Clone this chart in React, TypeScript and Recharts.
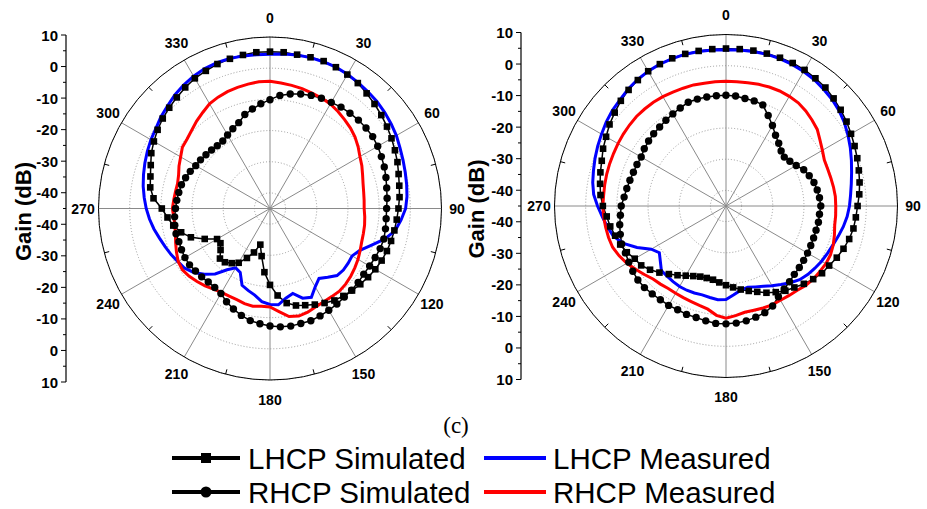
import React from "react";
import {
  RadarChart,
  Radar,
  PolarGrid,
  PolarAngleAxis,
  PolarRadiusAxis,
  LineChart,
  YAxis,
} from "recharts";

// angle categories, every 5 degrees, 0 at top, clockwise
const ANGLES = [
  0, 5, 10, 15, 20, 25, 30, 35, 40, 45, 50, 55,
  60, 65, 70, 75, 80, 85, 90, 95, 100, 105, 110, 115,
  120, 125, 130, 135, 140, 145, 150, 155, 160, 165, 170, 175,
  180, 185, 190, 195, 200, 205, 210, 215, 220, 225, 230, 235,
  240, 245, 250, 255, 260, 265, 270, 275, 280, 285, 290, 295,
  300, 305, 310, 315, 320, 325, 330, 335, 340, 345, 350, 355,
];
const SPOKE_ANGLES = [0, 30, 60, 90, 120, 150, 180, 210, 240, 270, 300, 330];
const RING_TICKS = [-40, -30, -20, -10, 0, 10];
const GAIN_TICKS = [10, 5, 0, -5, -10, -15, -20, -25, -30, -35, -40, -45];
const GAIN_MIN = -45;
const GAIN_MAX = 10;

// left panel (dB)
const L_LHCP_SIM = [
  5.3, 5.3, 5.1, 5.2, 5.3, 5.0, 4.6, 4.1, 3.2, 2.4, 1.6, 0.8,
  0.0, -0.8, -1.5, -2.3, -2.9, -3.3, -3.8, -4.2, -4.5, -4.8, -5.1, -5.5,
  -6.0, -6.6, -7.2, -7.8, -8.4, -9.0, -10.0, -11.0, -12.0, -12.8, -14.2, -17.0,
  -20.5, -24.5, -29.5, -33.0, -30.0, -27.5, -24.9, -23.6, -22.5, -22.3, -24.3, -25.6,
  -25.4, -21.9, -18.0, -15.5, -13.5, -12.0, -10.3, -7.5, -6.0, -5.3, -4.3, -3.0,
  -2.0, -1.0, -0.1, 0.7, 1.5, 2.4, 3.2, 3.7, 4.3, 4.7, 5.0, 5.3,
];
const L_LHCP_MEAS = [
  4.5, 4.7, 5.0, 5.1, 5.1, 5.0, 4.7, 4.3, 3.9, 3.5, 3.0, 2.4,
  1.8, 1.0, 0.4, -0.1, -0.5, -0.9, -1.5, -2.8, -4.2, -7.0, -10.5, -13.2,
  -14.6, -14.4, -14.3, -14.6, -16.2, -17.6, -16.0, -13.6, -14.4, -16.8, -15.8, -14.0,
  -14.2, -15.0, -16.8, -17.8, -18.8, -22.4, -23.0, -21.0, -17.6, -15.2, -13.1, -11.6,
  -10.9, -10.0, -9.2, -8.3, -7.2, -6.2, -5.3, -4.5, -3.7, -3.0, -2.3, -1.6,
  -0.9, -0.3, 0.7, 1.5, 2.5, 3.3, 4.0, 4.5, 4.8, 4.8, 4.7, 4.5,
];
const L_RHCP_SIM = [
  -10.1, -8.6, -7.7, -7.0, -6.4, -6.0, -5.7, -5.3, -5.1, -4.9, -4.8, -4.8,
  -5.1, -5.6, -6.0, -6.5, -7.0, -7.3, -7.6, -7.6, -7.4, -7.2, -7.4, -7.8,
  -8.1, -8.3, -8.1, -8.0, -7.9, -7.6, -7.3, -7.0, -6.7, -6.8, -6.7, -6.9,
  -7.3, -7.9, -8.5, -9.5, -10.7, -12.0, -13.5, -14.1, -14.2, -14.0, -13.8, -13.5,
  -13.5, -13.7, -13.9, -13.8, -14.0, -14.3, -14.7, -15.0, -15.3, -15.6, -16.2, -16.8,
  -17.5, -17.8, -18.2, -18.5, -18.7, -18.6, -17.8, -16.8, -15.7, -13.8, -12.6, -11.3,
];
const L_RHCP_MEAS = [
  -4.2, -4.6, -4.9, -5.2, -5.6, -5.9, -6.3, -7.0, -7.8, -8.5, -9.4, -10.5,
  -11.7, -12.5, -13.4, -14.1, -14.5, -14.7, -14.8, -14.5, -14.2, -14.0, -13.7, -13.1,
  -12.4, -11.8, -11.2, -10.7, -10.4, -10.5, -10.5, -10.2, -9.6, -9.3, -9.8, -11.8,
  -13.4, -13.5, -13.2, -13.4, -13.9, -14.0, -13.9, -13.4, -12.6, -11.9, -11.2, -10.7,
  -11.0, -11.9, -12.8, -13.6, -14.0, -14.0, -13.7, -14.0, -14.2, -14.3, -13.8, -12.8,
  -11.9, -10.7, -10.3, -9.5, -8.4, -7.4, -6.2, -5.6, -5.1, -4.8, -4.5, -4.2,
];

// right panel (dB)
const R_LHCP_SIM = [
  5.5, 5.5, 5.6, 5.6, 5.6, 5.6, 5.4, 5.0, 4.6, 3.8, 3.0, 2.2,
  1.3, 0.5, -0.2, -0.9, -1.5, -2.1, -2.8, -3.2, -3.5, -4.1, -4.9, -5.8,
  -6.8, -7.4, -8.5, -9.7, -10.9, -11.8, -13.1, -14.3, -15.7, -16.8, -17.8, -18.8,
  -19.6, -20.4, -21.0, -21.1, -20.9, -20.2, -19.2, -17.9, -16.5, -14.8, -13.2, -11.8,
  -11.2, -9.9, -8.9, -8.2, -7.3, -6.6, -5.5, -4.6, -4.0, -3.3, -2.6, -1.5,
  -0.6, 0.6, 1.6, 2.7, 3.6, 4.3, 4.9, 5.2, 5.4, 5.5, 5.5, 5.5,
];
const R_LHCP_MEAS = [
  5.1, 5.2, 5.3, 5.4, 5.3, 5.1, 4.8, 4.4, 3.8, 3.2, 2.4, 1.4,
  0.2, -1.0, -2.2, -3.3, -4.2, -4.9, -5.4, -6.0, -6.8, -7.7, -8.5, -9.1,
  -9.6, -10.2, -10.8, -11.6, -12.9, -14.3, -15.5, -16.6, -17.4, -18.0, -17.6, -16.4,
  -15.0, -14.8, -15.2, -15.5, -15.3, -15.2, -15.2, -15.4, -15.6, -15.7, -17.5, -18.9,
  -17.3, -13.5, -10.0, -7.6, -6.4, -5.2, -3.8, -2.4, -1.6, -1.0, -0.3, 0.4,
  1.1, 1.9, 2.6, 3.1, 3.9, 4.5, 4.9, 5.2, 5.3, 5.4, 5.3, 5.2,
];
const R_RHCP_SIM = [
  -9.5, -9.6, -10.0, -10.1, -10.5, -13.0, -15.2, -17.3, -18.7, -20.0, -20.6, -20.0,
  -19.0, -17.5, -16.6, -15.8, -15.3, -14.9, -14.6, -14.9, -14.9, -15.1, -15.1, -15.0,
  -14.8, -14.6, -14.3, -14.0, -13.3, -12.5, -11.4, -9.6, -8.6, -8.1, -7.6, -7.3,
  -7.2, -7.2, -7.6, -8.0, -8.0, -8.3, -8.2, -8.3, -8.2, -8.0, -8.1, -8.5,
  -9.0, -9.4, -9.4, -9.9, -10.4, -11.0, -11.4, -12.2, -12.7, -13.1, -13.4, -13.5,
  -13.6, -13.0, -12.6, -12.2, -11.9, -11.4, -10.9, -10.3, -9.6, -9.5, -9.5, -9.5,
];
const R_RHCP_MEAS = [
  -5.0, -5.0, -4.9, -4.6, -4.4, -4.3, -4.4, -4.6, -5.2, -6.0, -6.8, -8.2,
  -9.3, -10.2, -10.3, -10.2, -10.0, -9.8, -9.8, -9.7, -9.6, -9.0, -8.4, -8.0,
  -8.0, -8.3, -8.5, -8.9, -9.6, -9.9, -10.1, -10.0, -10.2, -10.4, -10.4, -9.7,
  -9.0, -9.8, -11.4, -12.0, -12.4, -12.6, -12.7, -12.7, -12.3, -11.9, -10.8, -9.6,
  -8.3, -7.2, -6.3, -6.0, -5.8, -5.6, -5.5, -5.6, -5.5, -5.4, -5.3, -5.2,
  -5.0, -4.8, -4.6, -4.4, -4.4, -4.4, -4.5, -4.7, -4.8, -4.8, -5.0, -5.0,
];

const SERIES_LABELS = ["LHCP Simulated", "LHCP Measured", "RHCP Simulated", "RHCP Measured"];

const buildRows = (ls: number[], lm: number[], rs: number[], rm: number[]) =>
  ANGLES.map((angle, i) => ({ angle, lhcpSim: ls[i], lhcpMeas: lm[i], rhcpSim: rs[i], rhcpMeas: rm[i] }));

const LEFT_ROWS = buildRows(L_LHCP_SIM, L_LHCP_MEAS, L_RHCP_SIM, L_RHCP_MEAS);
const RIGHT_ROWS = buildRows(R_LHCP_SIM, R_LHCP_MEAS, R_RHCP_SIM, R_RHCP_MEAS);

const FONT = "'Liberation Sans', Arial, Helvetica, sans-serif";
const RADIUS = 171.5;
const AXIS_HALF = 173.5;
const AXIS_W = 66;
const CHART_H = 420;

const squareDot = (p: any) => (
  <rect key={`sq-${p.index}`} x={p.cx - 3.3} y={p.cy - 3.3} width={6.6} height={6.6} fill="#000" />
);
const circleDot = (p: any) => (
  <circle key={`ci-${p.index}`} cx={p.cx} cy={p.cy} r={3.7} fill="#000" />
);

function makeAngleTick(cx: number, cy: number) {
  return (props: any) => {
    const { payload, index } = props;
    const v = Number(payload.value);
    const rad = (-payload.coordinate * Math.PI) / 180;
    const ux = Math.cos(rad);
    const uy = Math.sin(rad);
    if (v % 30 === 0) {
      return (
        <text
          key={`at-${index}`}
          x={cx + ux * 187}
          y={cy + uy * 191}
          textAnchor="middle"
          dominantBaseline="central"
          fontFamily={FONT}
          fontWeight="bold"
          fontSize={14}
          fill="#000"
        >
          {v}
        </text>
      );
    }
    if (v % 15 === 0) {
      return (
        <line
          key={`at-${index}`}
          x1={cx + ux * RADIUS}
          y1={cy + uy * RADIUS}
          x2={cx + ux * (RADIUS - 5)}
          y2={cy + uy * (RADIUS - 5)}
          stroke="#000"
          strokeWidth={1}
        />
      );
    }
    return <g key={`at-${index}`} />;
  };
}

function PolarPanel({ left, cx, cy, data }: { left: number; cx: number; cy: number; data: any[] }) {
  return (
    <div style={{ position: "absolute", left, top: 0 }}>
      <RadarChart
        width={470}
        height={CHART_H}
        cx={cx}
        cy={cy}
        outerRadius={RADIUS}
        data={data}
        startAngle={90}
        endAngle={-270}
        margin={{ top: 0, right: 0, bottom: 0, left: 0 }}
      >
        <PolarGrid gridType="circle" radialLines={false} stroke="#9a9a9a" strokeDasharray="1 2" />
        <PolarGrid gridType="circle" polarAngles={SPOKE_ANGLES} polarRadius={[]} stroke="#8a8a8a" />
        <PolarAngleAxis
          dataKey="angle"
          axisLineType="circle"
          axisLine={{ stroke: "#000", strokeWidth: 1 }}
          tickLine={false}
          tick={makeAngleTick(cx, cy)}
        />
        <PolarRadiusAxis
          type="number"
          domain={[GAIN_MIN, GAIN_MAX]}
          ticks={RING_TICKS as any}
          tick={false}
          axisLine={false}
        />
        <Radar name={SERIES_LABELS[0]} dataKey="lhcpSim" stroke="#000" strokeWidth={1.5} fill="none" fillOpacity={0} dot={squareDot} isAnimationActive={false} />
        <Radar name={SERIES_LABELS[2]} dataKey="rhcpSim" stroke="#000" strokeWidth={1.5} fill="none" fillOpacity={0} dot={circleDot} isAnimationActive={false} />
        <Radar name={SERIES_LABELS[1]} dataKey="lhcpMeas" stroke="#0000ff" strokeWidth={3} fill="none" fillOpacity={0} dot={false} isAnimationActive={false} />
        <Radar name={SERIES_LABELS[3]} dataKey="rhcpMeas" stroke="#ff0000" strokeWidth={3} fill="none" fillOpacity={0} dot={false} isAnimationActive={false} />
      </RadarChart>
    </div>
  );
}

const SPAN = GAIN_MAX - GAIN_MIN;
const AXIS_TICKS = Array.from(
  new Set([...GAIN_TICKS.map((g) => g - GAIN_MIN), ...GAIN_TICKS.map((g) => -(g - GAIN_MIN))])
);

const renderGainTick = (props: any) => {
  const u = Number(props.payload.value);
  const g = Math.abs(u) + GAIN_MIN;
  const major = g % 10 === 0;
  return (
    <g key={`gt-${u}`}>
      <line x1={AXIS_W} x2={AXIS_W - (major ? 5 : 3)} y1={props.y} y2={props.y} stroke="#000" strokeWidth={1} />
      {major && (
        <text
          x={AXIS_W - 8}
          y={props.y}
          textAnchor="end"
          dominantBaseline="central"
          fontFamily={FONT}
          fontWeight="bold"
          fontSize={15}
          fill="#000"
        >
          {g}
        </text>
      )}
    </g>
  );
};

function GainAxis({ left, cy, labelX }: { left: number; cy: number; labelX: number }) {
  return (
    <div style={{ position: "absolute", left, top: 0 }}>
      <LineChart
        width={90}
        height={CHART_H}
        data={[{ u: 0 }]}
        margin={{ top: cy - AXIS_HALF, bottom: CHART_H - (cy + AXIS_HALF), left: 0, right: 0 }}
      >
        <YAxis
          type="number"
          dataKey="u"
          domain={[-SPAN, SPAN]}
          ticks={AXIS_TICKS}
          interval={0}
          width={AXIS_W}
          axisLine={{ stroke: "#000", strokeWidth: 1.2 }}
          tickLine={false}
          tick={renderGainTick}
          label={{
            content: () => (
              <text
                transform={`translate(${labelX},${cy + 3}) rotate(-90)`}
                textAnchor="middle"
                dominantBaseline="central"
                fontFamily={FONT}
                fontWeight="bold"
                fontSize={22}
                fill="#000"
              >
                Gain (dB)
              </text>
            ),
          }}
        />
      </LineChart>
    </div>
  );
}

function LegendBlock() {
  const rows = [
    { y: 458, sim: SERIES_LABELS[0], meas: SERIES_LABELS[1], color: "#0000ff", marker: "square" },
    { y: 492, sim: SERIES_LABELS[2], meas: SERIES_LABELS[3], color: "#ff0000", marker: "circle" },
  ];
  return (
    <svg width={927} height={509} style={{ position: "absolute", left: 0, top: 0, pointerEvents: "none" }}>
      <text x={456} y={433} textAnchor="middle" fontFamily="'Liberation Serif', 'Times New Roman', serif" fontSize={23} fill="#000">
        (c)
      </text>
      {rows.map((r) => (
        <g key={r.sim}>
          <line x1={172} x2={240} y1={r.y} y2={r.y} stroke="#000" strokeWidth={4} />
          {r.marker === "square" ? (
            <rect x={201} y={r.y - 5} width={10} height={10} fill="#000" />
          ) : (
            <circle cx={206} cy={r.y} r={5.5} fill="#000" />
          )}
          <text x={248} y={r.y + 10.5} fontFamily={FONT} fontSize={29.5} fill="#000">
            {r.sim}
          </text>
          <line x1={484} x2={546} y1={r.y} y2={r.y} stroke={r.color} strokeWidth={4} />
          <text x={553} y={r.y + 10.5} fontFamily={FONT} fontSize={29.5} fill="#000">
            {r.meas}
          </text>
        </g>
      ))}
    </svg>
  );
}

export default function App() {
  return (
    <div
      style={{
        position: "absolute",
        left: 0,
        top: 0,
        width: 927,
        height: 509,
        background: "#fff",
        overflow: "hidden",
      }}
    >
      <GainAxis left={0} cy={208.5} labelX={23} />
      <PolarPanel left={0} cx={270} cy={208.5} data={LEFT_ROWS} />
      <GainAxis left={455} cy={206} labelX={21} />
      <PolarPanel left={460} cx={266} cy={206} data={RIGHT_ROWS} />
      <LegendBlock />
    </div>
  );
}
